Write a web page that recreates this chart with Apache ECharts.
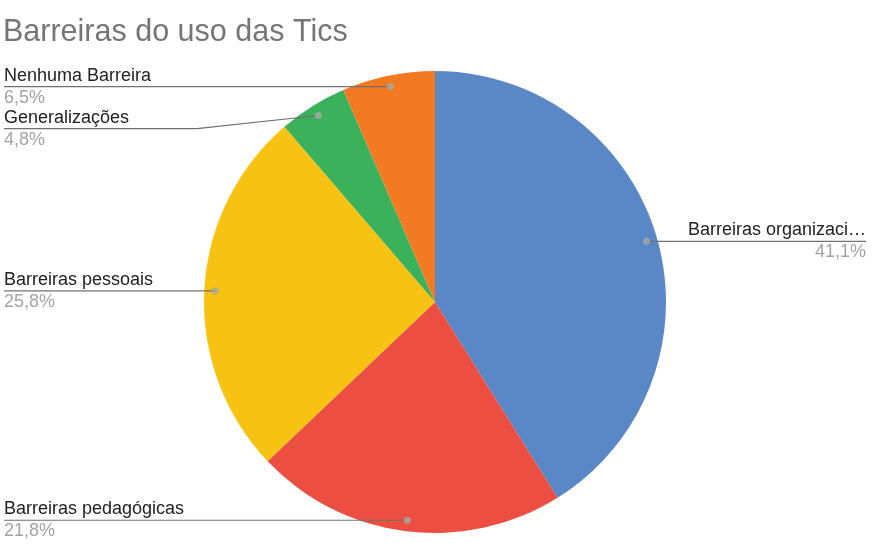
<!DOCTYPE html>
<html><head><meta charset="utf-8">
<script src="https://cdn.jsdelivr.net/npm/echarts@6/dist/echarts.min.js"></script>
<style>html,body{margin:0;padding:0;background:#fff}#c{width:891px;height:558px}</style>
</head><body><div id="c"></div>
<script>
const titleText = 'Barreiras do uso das Tics';
const categories = ['Barreiras organizacionais', 'Barreiras pedagógicas', 'Barreiras pessoais', 'Generalizações', 'Nenhuma Barreira'];
const values = [41.1, 21.8, 25.8, 4.8, 6.5];
const colors = ['#5a88c6', '#ec4f42', '#f8c212', '#3bb15b', '#f37a22'];

const CX = 435, CY = 302, R = 231, R_DOT = 220;
const FONT = '"Liberation Sans", Arial, sans-serif';
const chart = echarts.init(document.getElementById('c'), null, { renderer: 'canvas' });

const total = values.reduce((a, b) => a + b, 0);
let cum = 0;
const dotData = values.map(v => { const mid = (cum + v / 2) / total * 100; cum += v; return [R_DOT, mid]; });
const fmt = v => v.toFixed(1).replace('.', ',') + '%';
const pieData = categories.map((n, i) => ({ name: n, value: values[i], itemStyle: { color: colors[i] } }));
const labelData = categories.map((n, i) => {
  const d = { name: n, value: values[i] };
  if (i === 0) d.label = { width: 182, overflow: 'truncate', ellipsis: '…' };
  return d;
});

chart.setOption({
  animation: false,
  backgroundColor: '#ffffff',
  title: {
    text: titleText, left: 3, top: 18, padding: 0,
    textStyle: { fontFamily: FONT, fontSize: 30.5, fontWeight: 'normal', color: '#757575', lineHeight: 30 }
  },
  polar: { center: [CX, CY], radius: R },
  angleAxis: { type: 'value', min: 0, max: 100, startAngle: 90, clockwise: true, show: false },
  radiusAxis: { type: 'value', min: 0, max: R, show: false },
  series: [
    {
      type: 'pie', center: [CX, CY], radius: R, data: pieData, silent: true, z: 1,
      label: { show: false }, labelLine: { show: false },
      itemStyle: { borderWidth: 0 }
    },
    {
      type: 'pie', center: [CX, CY], radius: R_DOT, data: labelData, silent: true, z: 3,
      itemStyle: { color: 'rgba(0,0,0,0)', borderWidth: 0 },
      avoidLabelOverlap: true,
      label: {
        show: true, position: 'outside',
        formatter: p => '{n|' + p.name + '}\n{p|' + fmt(p.value) + '}',
        rich: {
          n: { fontFamily: FONT, fontSize: 18, color: '#222222', lineHeight: 22 },
          p: { fontFamily: FONT, fontSize: 18, color: '#a3a3a3', lineHeight: 22 }
        }
      },
      labelLine: { show: true, length: 0, length2: 0, lineStyle: { color: '#707070', width: 1.2 } },
      labelLayout: function (p) {
        const pts = p.labelLinePoints;
        if (!pts) return {};
        const y = pts[pts.length - 1][1];
        const left = pts[0][0] < CX;
        const ex = left ? 4 : 866;
        const bx = left ? 197 : 700;
        return {
          x: ex, y: y, align: left ? 'left' : 'right', verticalAlign: 'middle',
          labelLinePoints: [pts[0], [bx, y], [ex, y]]
        };
      }
    },
    {
      type: 'scatter', coordinateSystem: 'polar', data: dotData, silent: true, z: 10,
      symbolSize: 7, itemStyle: { color: '#a8a8a8' }
    }
  ]
});
</script></body></html>
